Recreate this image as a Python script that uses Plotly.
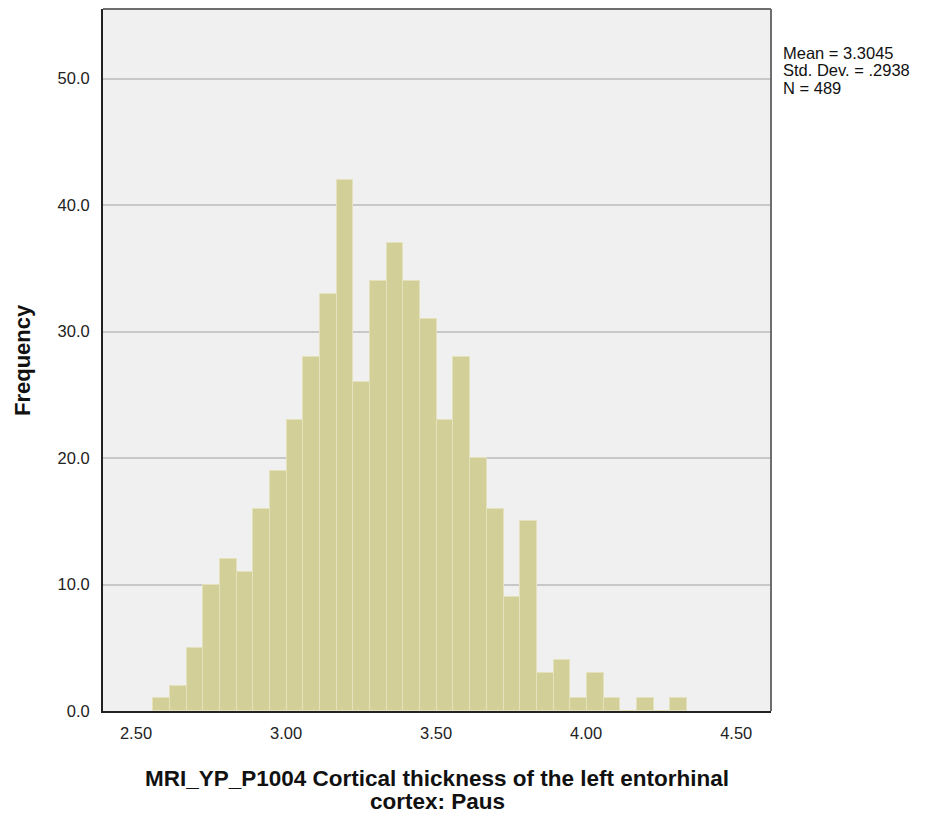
import plotly.graph_objects as go

# Histogram data
bin_start = 2.5577
bin_width = 0.05557
counts = [1, 2, 5, 10, 12, 11, 16, 19, 23, 28, 33, 42,
          26, 34, 37, 34, 31, 23, 28, 20, 16, 9, 15, 3,
          4, 1, 3, 1, 0, 1, 0, 1]
x_ticks = [2.5, 3.0, 3.5, 4.0, 4.5]
x_tick_labels = ["2.50", "3.00", "3.50", "4.00", "4.50"]
y_ticks = [0, 10, 20, 30, 40, 50]
y_tick_labels = ["0.0", "10.0", "20.0", "30.0", "40.0", "50.0"]
stats_lines = ["Mean = 3.3045", "Std. Dev. = .2938", "N = 489"]
x_title_lines = ["MRI_YP_P1004 Cortical thickness of the left entorhinal", "cortex: Paus"]
y_title = "Frequency"

centers = [bin_start + bin_width * (i + 0.5) for i in range(len(counts))]

FONT = "Liberation Sans, Arial, sans-serif"

fig = go.Figure()
fig.add_trace(go.Bar(
    x=centers, y=counts, width=bin_width,
    marker=dict(color="#D3CF98", line=dict(color="#E4E1BD", width=1)),
    hoverinfo="x+y", showlegend=False,
))

fig.update_layout(
    width=909, height=809,
    margin=dict(l=95, r=145.5, t=0.5, b=106),
    paper_bgcolor="white",
    plot_bgcolor="#F0F0F0",
    font=dict(family=FONT, size=16, color="#222222"),
    bargap=0,
    xaxis=dict(
        range=[2.390, 4.616],
        tickvals=x_ticks, ticktext=x_tick_labels,
        showgrid=False, zeroline=False,
        showline=True, linecolor="#222222", linewidth=2,
        ticks="", ticklen=0, ticklabelstandoff=6,
        tickfont=dict(size=16.5, color="#222222"),
    ),
    yaxis=dict(
        range=[0, 55.5],
        tickvals=y_ticks, ticktext=y_tick_labels,
        showgrid=True, gridcolor="#C8C8C8", gridwidth=1.5,
        zeroline=False,
        showline=True, linecolor="#222222", linewidth=2,
        ticks="", ticklen=0, ticklabelstandoff=8,
        tickfont=dict(size=16.5, color="#222222"),
    ),
)

# top and right frame (gray)
fig.add_shape(type="line", xref="paper", yref="paper", x0=0, x1=1, y0=1, y1=1,
              line=dict(color="#6E6E6E", width=2))
fig.add_shape(type="line", xref="paper", yref="paper", x0=1, x1=1, y0=0, y1=1,
              line=dict(color="#6E6E6E", width=2))

# stats box text
for i, line in enumerate(stats_lines):
    fig.add_annotation(
        xref="paper", yref="paper", x=1.0, y=1.0,
        xshift=10, yshift=-(43.5 + 17.5 * i),
        xanchor="left", yanchor="middle",
        text=line, align="left", showarrow=False,
        font=dict(family=FONT, size=16.5, color="#111111"),
    )

# x-axis title (two tightly spaced lines)
for i, line in enumerate(x_title_lines):
    fig.add_annotation(
        xref="paper", yref="paper", x=0.5, y=0.0,
        yshift=-(67 + 23 * i), xanchor="center", yanchor="middle",
        text="<b>" + line + "</b>", showarrow=False, borderpad=0,
        font=dict(family=FONT, size=22.5, color="#111111"),
    )

# y-axis title
fig.add_annotation(
    xref="paper", yref="paper", x=0.0, y=0.5,
    xshift=-81, xanchor="center", yanchor="middle", textangle=-90,
    text="<b>" + y_title + "</b>", showarrow=False,
    font=dict(family=FONT, size=22, color="#111111"),
)

fig.write_html("out.html")
